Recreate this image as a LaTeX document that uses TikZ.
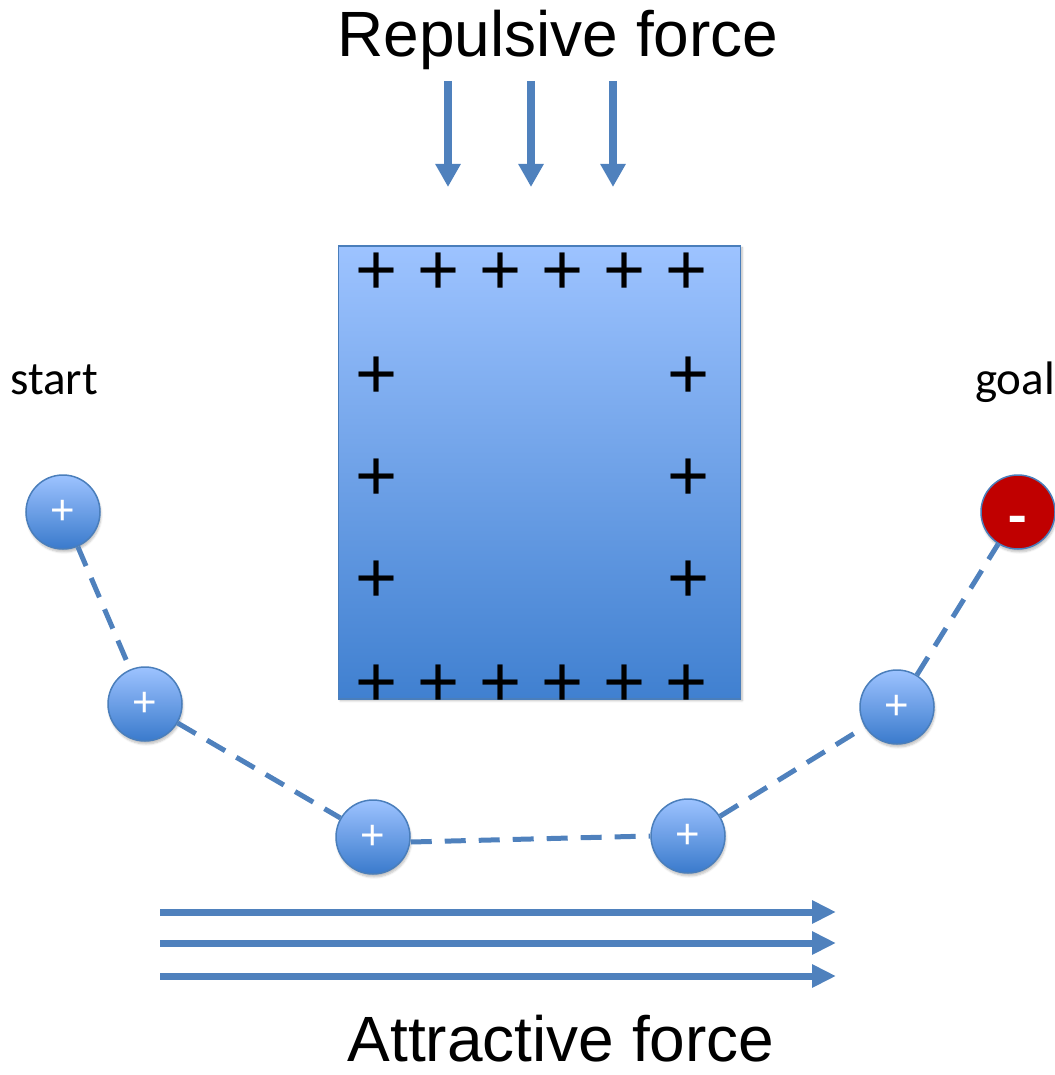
\documentclass[tikz,border=0pt]{standalone}
\usepackage{fontspec}
\setmainfont{Liberation Sans}
\newfontfamily\calib{Carlito}
\usetikzlibrary{arrows.meta,shadows.blur}
\definecolor{ofblue}{RGB}{79,129,189}
\definecolor{edgeblue}{RGB}{74,126,187}
\definecolor{boxtop}{RGB}{157,195,255}
\definecolor{boxbot}{RGB}{64,128,208}
\definecolor{ctop}{RGB}{157,195,255}
\definecolor{cbot}{RGB}{58,122,204}
\definecolor{goalred}{RGB}{192,0,0}
\begin{document}
\begin{tikzpicture}[x=1pt,y=-1pt,
  ball/.style={circle,minimum size=74pt,inner sep=0pt,draw=edgeblue,line width=1.5pt,
    top color=ctop,bottom color=cbot,text=white,font=\fontsize{42}{42}\selectfont,
    blur shadow={shadow blur steps=5,shadow xshift=1pt,shadow yshift=-3pt,shadow opacity=25}},
  goalball/.style={circle,minimum size=74pt,inner sep=0pt,draw=edgeblue,line width=1.5pt,
    fill=goalred,text=white,font=\calib\bfseries\fontsize{60}{60}\selectfont,
    blur shadow={shadow blur steps=5,shadow xshift=1pt,shadow yshift=-3pt,shadow opacity=25}},
  charge/.style={inner sep=0pt,font=\fontsize{72}{72}\selectfont},
  conn/.style={draw=ofblue,line width=5pt,dash pattern=on 21pt off 13pt},
  farrow/.style={draw=ofblue,line width=8pt,-{Triangle[width=24pt,length=23pt]}},
  hfarrow/.style={draw=ofblue,line width=7pt,-{Triangle[width=22pt,length=24pt]}},
  title/.style={font=\fontsize{64}{64}\selectfont,anchor=base,inner sep=0pt},
  label/.style={font=\calib\fontsize{47}{47}\selectfont,anchor=base,inner sep=0pt}
]
\useasboundingbox (0,0) rectangle (1054,1075);

% titles
\node[title] (rep) at (558,57) {Repulsive force};
\node[title] (att) at (561,1061) {Attractive force};
\node[label] (start) at (54,394) {start};
\node[label] (goal) at (1015,394) {goal};

% repulsive arrows
\coordinate (r1a) at (448,81); \coordinate (r1b) at (448,187);
\coordinate (r2a) at (531,81); \coordinate (r2b) at (531,187);
\coordinate (r3a) at (613,81); \coordinate (r3b) at (613,187);
\draw[farrow] (r1a) -- (r1b);
\draw[farrow] (r2a) -- (r2b);
\draw[farrow] (r3a) -- (r3b);

% obstacle
\node[draw=edgeblue,line width=1.5pt,top color=boxtop,bottom color=boxbot,
  minimum width=402pt,minimum height=453pt,inner sep=0pt,anchor=north west,
  blur shadow={shadow blur steps=5,shadow xshift=2pt,shadow yshift=-2pt,shadow opacity=25}]
  (obst) at (337.5,245) {};

\foreach \x [count=\i] in {377,439,501,563,625,687}{
  \node[charge] (pt\i) at (\x,274) {+};
  \node[charge] (pb\i) at (\x,686) {+};
}
\foreach \y [count=\i] in {378,480,582}{
  \node[charge] (pl\i) at (377,\y) {+};
  \node[charge] (pr\i) at (689,\y) {+};
}

% path charges
\node[ball] (c1) at (63,512) {+};
\node[ball] (c2) at (145,704) {+};
\node[ball] (c3) at (373,837) {+};
\node[ball] (c4) at (688,836) {+};
\node[ball] (c5) at (897,707) {+};
\node[goalball] (c6) at (1018,512) {\raisebox{-24pt}[0pt][0pt]{-}};

\draw[conn] (c1) -- (c2);
\draw[conn] (c2) -- (c3);
\draw[conn] ([yshift=-5pt]c3.east) -- (c4.west);
\draw[conn] (c4) -- (c5);
\draw[conn] (c5) -- (c6);

% attractive arrows
\coordinate (a1a) at (160,912); \coordinate (a1b) at (836,912);
\coordinate (a2a) at (160,943); \coordinate (a2b) at (836,943);
\coordinate (a3a) at (160,976); \coordinate (a3b) at (836,976);
\draw[hfarrow] (a1a) -- (a1b);
\draw[hfarrow] (a2a) -- (a2b);
\draw[hfarrow] (a3a) -- (a3b);
\end{tikzpicture}
\end{document}
